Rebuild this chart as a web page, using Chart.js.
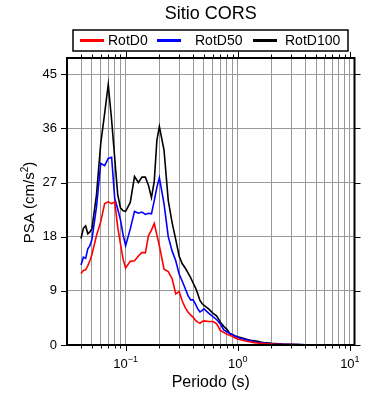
<!DOCTYPE html>
<html>
<head>
<meta charset="utf-8">
<script src="https://cdn.jsdelivr.net/npm/chart.js@4.4.1/dist/chart.umd.min.js"></script>
<style>
  html, body { margin: 0; padding: 0; background: #fff; }
  canvas { display: block; }
</style>
</head>
<body>
<canvas id="psaChart" width="390" height="400"></canvas>
<script>
// periods (s)
var periods = [0.04, 0.042, 0.044, 0.046, 0.048, 0.05, 0.055, 0.06, 0.065, 0.07,
  0.075, 0.08, 0.085, 0.09, 0.095, 0.1, 0.11, 0.12, 0.13, 0.14,
  0.15, 0.16, 0.17, 0.18, 0.19, 0.2, 0.22, 0.24, 0.26, 0.28,
  0.3, 0.32, 0.34, 0.36, 0.38, 0.4, 0.42, 0.44, 0.46, 0.48,
  0.5, 0.55, 0.6, 0.65, 0.7, 0.75, 0.8, 0.85, 0.9, 0.95,
  1.0, 1.1, 1.2, 1.3, 1.4, 1.5, 1.6, 1.7, 1.8, 1.9,
  2.0, 2.5, 3, 3.5, 4, 5, 6, 7, 8, 9, 10];

var rotD0 = [11.9, 12.4, 12.5, 13.2, 14.0, 15.0, 18.2, 20.5, 23.5, 23.8,
  23.5, 23.8, 19.6, 16.8, 14.2, 12.8, 13.9, 14.0, 14.8, 15.4,
  15.3, 18.2, 19.1, 20.2, 18.3, 16.5, 12.6, 12.2, 11.0, 8.5,
  8.9, 7.3, 6.2, 5.5, 5.0, 4.6, 4.1, 3.8, 3.6, 3.9,
  4.0, 3.9, 3.9, 3.5, 2.4, 2.1, 1.8, 1.6, 1.4, 1.15,
  1.0, 0.8, 0.62, 0.5, 0.4, 0.32, 0.27, 0.23, 0.2, 0.17,
  0.15, 0.09, 0.06, 0.04, 0.03, 0.02, 0.015, 0.012, 0.01, 0.008, 0.007];

var rotD50 = [13.3, 14.6, 14.4, 16.0, 16.5, 17.5, 23.0, 30.2, 29.8, 31.0,
  31.2, 24.3, 22.6, 20.8, 18.3, 16.5, 19.3, 22.2, 21.9, 22.1,
  21.7, 21.9, 21.8, 24.0, 26.2, 27.8, 23.5, 18.0, 15.6, 14.0,
  11.8, 10.6, 9.4, 8.2, 7.5, 7.5, 6.8, 6.0, 5.5, 5.7,
  6.0, 5.3, 4.7, 4.2, 3.5, 2.5, 2.2, 1.9, 1.7, 1.45,
  1.25, 1.05, 0.85, 0.7, 0.55, 0.45, 0.38, 0.32, 0.27, 0.23,
  0.2, 0.12, 0.08, 0.06, 0.045, 0.03, 0.022, 0.018, 0.014, 0.012, 0.01];

var rotD100 = [17.7, 19.4, 19.8, 18.5, 18.8, 19.3, 25.0, 33.5, 38.5, 43.3,
  37.4, 31.0, 25.0, 22.8, 22.3, 22.2, 23.7, 28.0, 27.0, 27.9,
  27.9, 26.5, 24.5, 27.2, 34.0, 36.3, 32.4, 24.0, 20.3, 17.5,
  14.8, 13.5, 12.8, 12.0, 11.2, 10.3, 9.5, 8.5, 7.4, 6.9,
  6.6, 6.0, 5.3, 4.8, 3.8, 3.1, 2.6, 1.9, 1.7, 1.5,
  1.35, 1.15, 0.95, 0.8, 0.7, 0.6, 0.5, 0.42, 0.36, 0.31,
  0.27, 0.15, 0.1, 0.07, 0.05, 0.035, 0.025, 0.02, 0.016, 0.013, 0.011];

var seriesNames = ["RotD0", "RotD50", "RotD100"];
var seriesColors = ["#ff0000", "#0000ff", "#000000"];

var yTicks = [0, 9, 18, 27, 36, 45];
var xMajorTicks = [0.1, 1, 10];
var xMajorLabels = [["10", "\u22121"], ["10", "0"], ["10", "1"]];
var xGridValues = [];
[0.01, 0.1, 1].forEach(function (d) {
  for (var k = 1; k <= 9; k++) {
    var v = +(d * k).toPrecision(3);
    if (v >= 0.04) xGridValues.push(v);
  }
});
xGridValues.push(10);

var FONT = '"Liberation Sans", Arial, Helvetica, sans-serif';
Chart.defaults.font.family = FONT;

function isDecade(v) {
  var l = Math.log10(v);
  return Math.abs(l - Math.round(l)) < 1e-9;
}

var framePlugin = {
  id: "gmtFrame",
  afterDraw: function (chart) {
    var ctx = chart.ctx, a = chart.chartArea;
    var x = chart.scales.x, y = chart.scales.y;
    ctx.save();

    // outward ticks on all four sides
    ctx.strokeStyle = "#000";
    ctx.lineWidth = 1;
    ctx.beginPath();
    xGridValues.forEach(function (v) {
      var px = Math.round(x.getPixelForValue(v)) + 0.5;
      var len = isDecade(v) ? 6 : 3.5;
      ctx.moveTo(px, a.bottom); ctx.lineTo(px, a.bottom + len);
      ctx.moveTo(px, a.top); ctx.lineTo(px, a.top - len);
    });
    yTicks.forEach(function (v) {
      var py = Math.round(y.getPixelForValue(v)) + 0.5;
      ctx.moveTo(a.left - 6, py); ctx.lineTo(a.left, py);
      ctx.moveTo(a.right, py); ctx.lineTo(a.right + 6, py);
    });
    ctx.stroke();

    // frame
    ctx.lineWidth = 2;
    ctx.strokeRect(a.left, a.top, a.right - a.left, a.bottom - a.top);

    ctx.fillStyle = "#000";
    // x tick labels with superscript exponents
    xMajorTicks.forEach(function (v, i) {
      var px = x.getPixelForValue(v);
      ctx.font = "13px " + FONT;
      var w1 = ctx.measureText(xMajorLabels[i][0]).width;
      ctx.font = "9px " + FONT;
      var w2 = ctx.measureText(xMajorLabels[i][1]).width;
      var sx = px - (w1 + w2) / 2;
      ctx.textAlign = "left";
      ctx.textBaseline = "alphabetic";
      ctx.font = "13px " + FONT;
      ctx.fillText(xMajorLabels[i][0], sx, 368);
      ctx.font = "9px " + FONT;
      ctx.fillText(xMajorLabels[i][1], sx + w1, 362);
    });

    // title
    var cx = (a.left + a.right) / 2;
    ctx.textAlign = "center";
    ctx.textBaseline = "middle";
    ctx.font = "18px " + FONT;
    ctx.fillText("Sitio CORS", cx, 14);

    // x axis title
    ctx.font = "16px " + FONT;
    ctx.fillText("Periodo (s)", cx, 383);

    // y axis title
    ctx.save();
    ctx.translate(30, (a.top + a.bottom) / 2 + 1);
    ctx.rotate(-Math.PI / 2);
    ctx.textAlign = "left";
    ctx.font = "15px " + FONT;
    var p1 = "PSA (cm/s", p3 = ")";
    var w1 = ctx.measureText(p1).width, w3 = ctx.measureText(p3).width;
    ctx.font = "10px " + FONT;
    var w2 = ctx.measureText("2").width;
    var sx = -(w1 + w2 + w3) / 2;
    ctx.font = "15px " + FONT;
    ctx.fillText(p1, sx, 0);
    ctx.fillText(p3, sx + w1 + w2, 0);
    ctx.font = "10px " + FONT;
    ctx.fillText("2", sx + w1, -5);
    ctx.restore();

    // legend box
    ctx.lineWidth = 1.5;
    ctx.strokeRect(73, 30, 275, 21);
    var lineX = [80, 157, 253];
    var textX = [108, 195, 285];
    ctx.textAlign = "left";
    ctx.textBaseline = "middle";
    ctx.font = "14px " + FONT;
    chart.data.datasets.forEach(function (ds, i) {
      ctx.strokeStyle = ds.borderColor;
      ctx.lineWidth = 3;
      ctx.beginPath();
      ctx.moveTo(lineX[i], 40.5);
      ctx.lineTo(lineX[i] + 24, 40.5);
      ctx.stroke();
      ctx.fillStyle = "#000";
      ctx.fillText(ds.label, textX[i], 41);
    });

    ctx.restore();
  }
};

var allSeries = [rotD0, rotD50, rotD100];
var datasets = allSeries.map(function (vals, i) {
  return {
    label: seriesNames[i],
    data: periods.map(function (p, j) { return { x: p, y: vals[j] }; }),
    borderColor: seriesColors[i],
    backgroundColor: seriesColors[i],
    borderWidth: 1.6,
    pointRadius: 0,
    tension: 0,
    fill: false
  };
});

new Chart(document.getElementById("psaChart"), {
  type: "line",
  data: { datasets: datasets },
  options: {
    responsive: false,
    animation: false,
    devicePixelRatio: 1,
    layout: { padding: { left: 0, right: 35.5, top: 58, bottom: 55 } },
    plugins: { legend: { display: false }, tooltip: { enabled: false } },
    scales: {
      x: {
        type: "logarithmic",
        min: 0.03,
        max: 11,
        afterBuildTicks: function (s) {
          s.ticks = xGridValues.map(function (v) { return { value: v }; });
        },
        afterFit: function (s) { s.height = 0; },
        ticks: { display: false },
        grid: { color: "#999", lineWidth: 1, drawTicks: false },
        border: { display: false }
      },
      y: {
        type: "linear",
        min: 0,
        max: 47.7,
        afterBuildTicks: function (s) {
          s.ticks = yTicks.map(function (v) { return { value: v }; });
        },
        afterFit: function (s) { s.width = 67; },
        ticks: { color: "#000", font: { size: 13 }, padding: 10 },
        grid: { color: "#999", lineWidth: 1, drawTicks: false },
        border: { display: false }
      }
    }
  },
  plugins: [framePlugin]
});
</script>
</body>
</html>
